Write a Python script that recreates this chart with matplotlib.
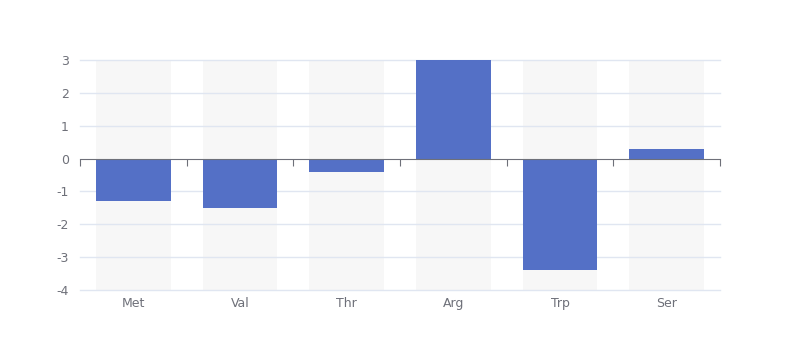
import numpy as np
import matplotlib.pyplot as plt
import matplotlib.transforms as mtransforms

categories = ["Met", "Val", "Thr", "Arg", "Trp", "Ser"]
values = [-1.3, -1.5, -0.4, 3.0, -3.4, 0.3]
y_ticks = [-4, -3, -2, -1, 0, 1, 2, 3]

bar_color = "#5470C6"
shadow_color = "#F7F7F7"
grid_color = "#E0E6F1"
axis_color = "#6E7079"

plt.rcParams["axes.unicode_minus"] = False

fig = plt.figure(figsize=(8, 3.6), dpi=100)
ax = fig.add_axes([0.1, 1 - 290 / 360, 0.8, 230 / 360])

x = np.arange(len(categories))
ymin, ymax = min(y_ticks), max(y_ticks)

# sfondo grigio dietro ogni barra
ax.bar(x, [ymax - ymin] * len(x), bottom=ymin, width=0.7, color=shadow_color, zorder=1)
ax.bar(x, values, width=0.7, color=bar_color, zorder=3)

ax.set_xlim(-0.5, len(categories) - 0.5)
ax.set_ylim(ymin, ymax)

# griglia orizzontale, sopra lo sfondo
for t in y_ticks:
    if t != 0:
        ax.axhline(t, color=grid_color, lw=1, zorder=2, clip_on=False)

for s in ["top", "right", "left"]:
    ax.spines[s].set_visible(False)
ax.spines["bottom"].set_position(("data", 0))
ax.spines["bottom"].set_color(axis_color)
ax.spines["bottom"].set_zorder(4)

ax.set_xticks(np.arange(len(categories) + 1) - 0.5)
ax.set_xticklabels([])
ax.tick_params(axis="x", length=5, color=axis_color, direction="out")

ax.set_yticks(y_ticks)
ax.set_yticklabels([str(t) for t in y_ticks])
ax.tick_params(axis="y", length=0, pad=8, labelcolor=axis_color, labelsize=9)

trans = mtransforms.blended_transform_factory(ax.transData, ax.transAxes)
for xi, c in zip(x, categories):
    ax.text(xi, 0, c, transform=trans + mtransforms.ScaledTranslation(0, -5 / 72, fig.dpi_scale_trans),
            ha="center", va="top", color=axis_color, fontsize=9)

fig.savefig("out.png", dpi=100)
